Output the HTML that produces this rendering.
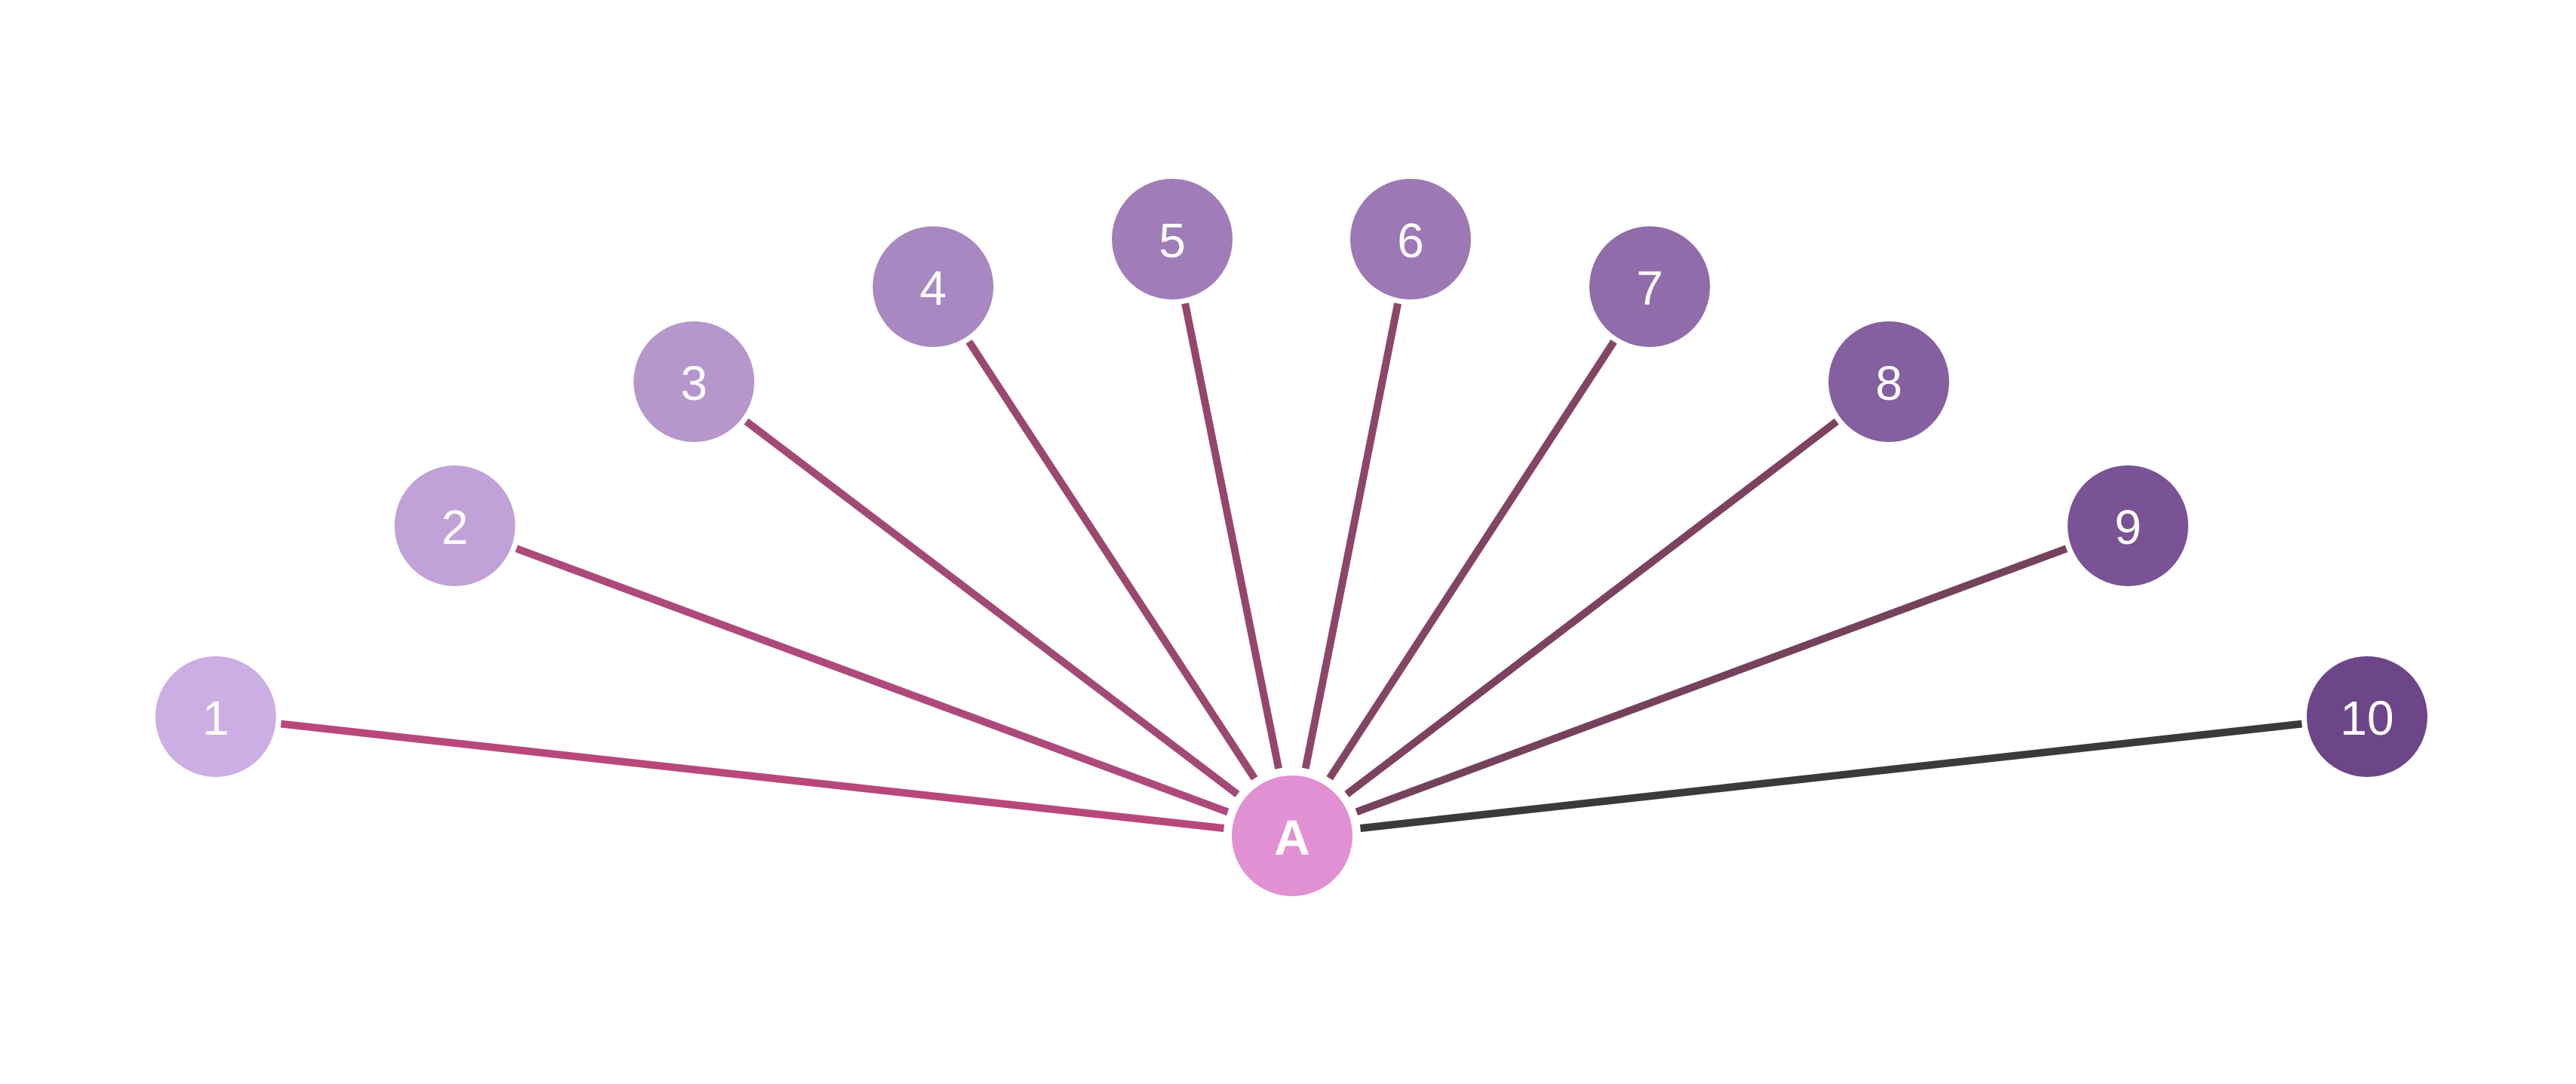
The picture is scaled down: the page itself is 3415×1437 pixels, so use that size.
<!DOCTYPE html>
<html><head><meta charset="utf-8">
<style>
html,body{margin:0;padding:0;background:#fff;}
svg{display:block;}
text{font-family:"Liberation Sans",sans-serif;fill:#fff;text-anchor:middle;dominant-baseline:central;}
</style></head>
<body>
<svg id="s" width="3415" height="1437" viewBox="0 0 3415 1437" xmlns="http://www.w3.org/2000/svg">
<g id="lines"></g>
<circle cx="286" cy="950" r="80" fill="#cbaee3"/>
<circle cx="603" cy="697" r="80" fill="#c0a2d8"/>
<circle cx="920" cy="506" r="80" fill="#b597cc"/>
<circle cx="1237" cy="380" r="80" fill="#a888c1"/>
<circle cx="1554" cy="317" r="80" fill="#a07db8"/>
<circle cx="1870" cy="317" r="80" fill="#9c78b4"/>
<circle cx="2187" cy="380" r="80" fill="#906cab"/>
<circle cx="2504" cy="506" r="80" fill="#8460a0"/>
<circle cx="2821" cy="697" r="80" fill="#7a5296"/>
<circle cx="3138" cy="950" r="80" fill="#6c4689"/>
<circle cx="1713" cy="1108" r="82" fill="#e290d4" stroke="#fff" stroke-width="4"/>
<text x="286" y="952" font-size="64">1</text>
<text x="603" y="699" font-size="64">2</text>
<text x="920" y="508" font-size="64">3</text>
<text x="1237" y="382" font-size="64">4</text>
<text x="1554" y="319" font-size="64">5</text>
<text x="1870" y="319" font-size="64">6</text>
<text x="2187" y="382" font-size="64">7</text>
<text x="2504" y="508" font-size="64">8</text>
<text x="2821" y="699" font-size="64">9</text>
<text x="3138" y="952" font-size="64">10</text>
<text x="1713" y="1110" font-size="66" font-weight="bold">A</text>
</svg>
<script>
var nodes=[[286,950,"#b8487c"],[603,697,"#ad4a7b"],[920,506,"#a24a76"],[1237,380,"#9a4870"],[1554,317,"#94466c"],[1870,317,"#8c4668"],[2187,380,"#844464"],[2504,506,"#7c4260"],[2821,697,"#74425c"],[3138,950,"#3a3a3a"]];
var ax=1713,ay=1108,g=document.getElementById("lines"),ns="http://www.w3.org/2000/svg";
nodes.forEach(function(n){
 var dx=ax-n[0],dy=ay-n[1],d=Math.sqrt(dx*dx+dy*dy),ux=dx/d,uy=dy/d;
 var l=document.createElementNS(ns,"line");
 l.setAttribute("x1",n[0]+ux*87);l.setAttribute("y1",n[1]+uy*87);
 l.setAttribute("x2",ax-ux*91);l.setAttribute("y2",ay-uy*91);
 l.setAttribute("stroke",n[2]);l.setAttribute("stroke-width","10");
 g.appendChild(l);
});
</script>
</body></html>
